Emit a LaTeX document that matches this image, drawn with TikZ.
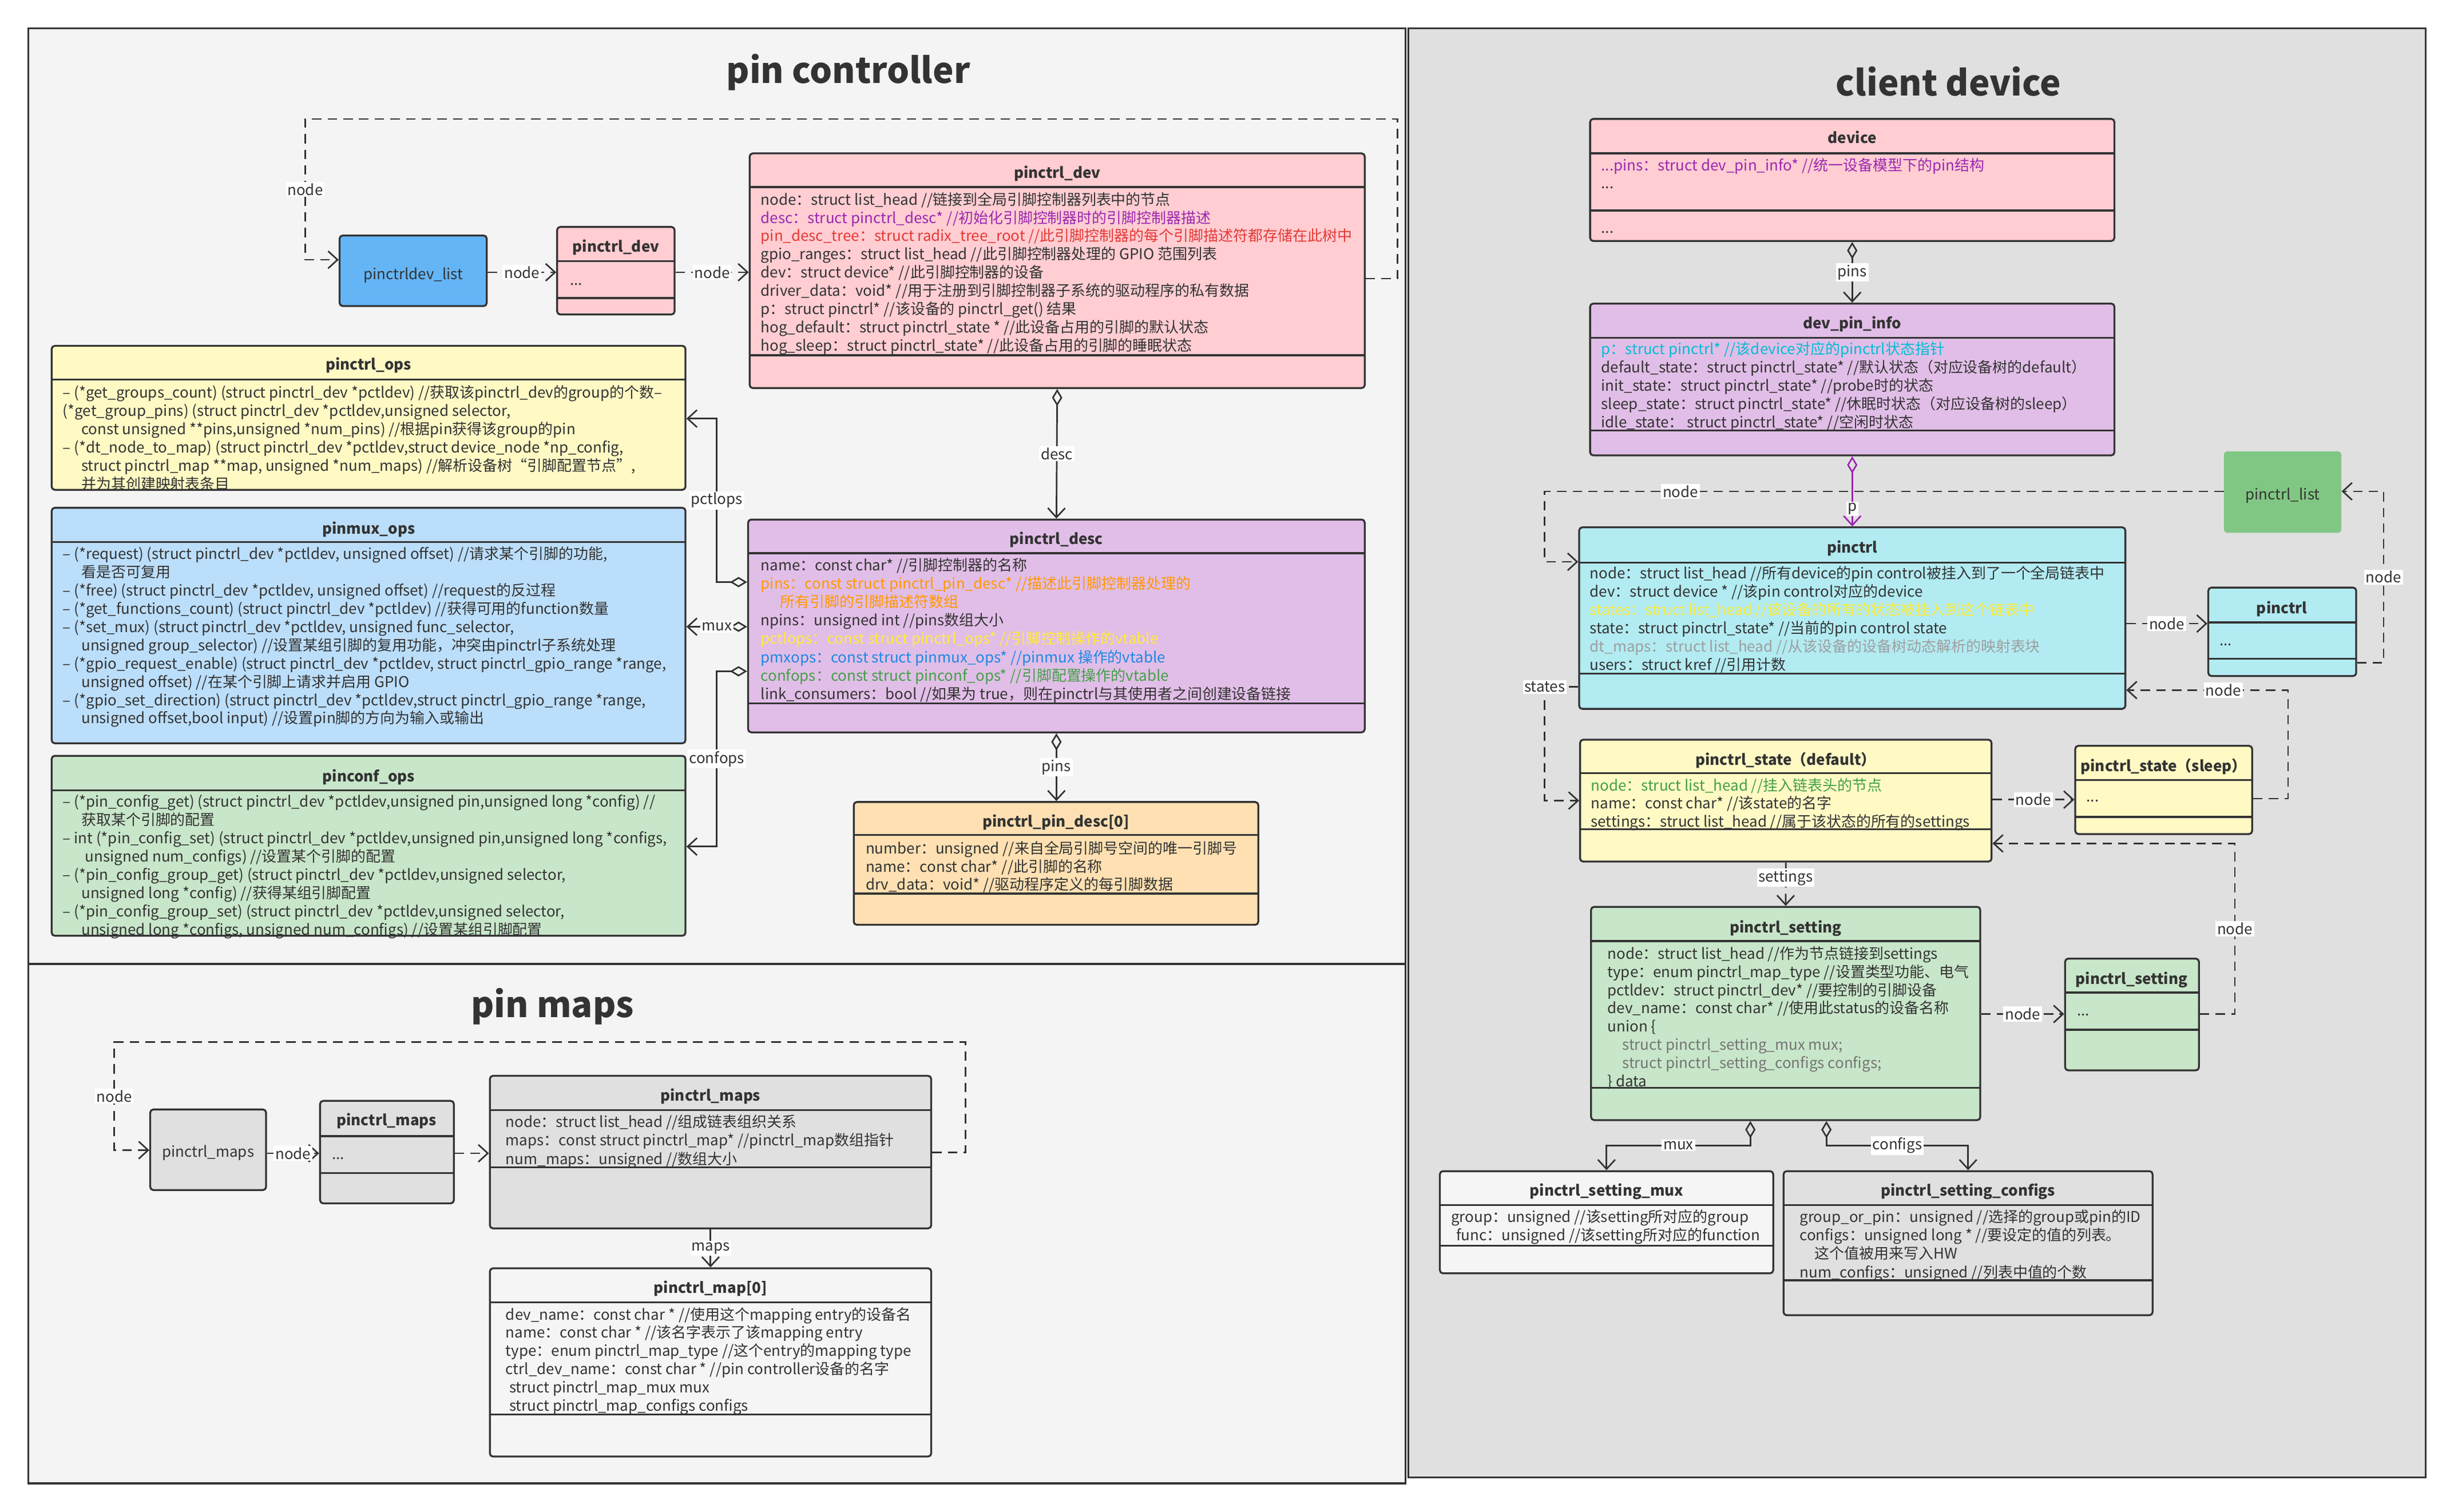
\documentclass[tikz,border=0pt]{standalone}
\usepackage{fontspec}
\setmainfont{Noto Sans CJK SC}
\usetikzlibrary{arrows.meta,fit}
\definecolor{lc}{HTML}{333333}
\definecolor{pnlA}{HTML}{F4F4F4}
\definecolor{pnlB}{HTML}{E0E0E0}
\definecolor{cpink}{HTML}{FFCDD2}
\definecolor{cblue}{HTML}{64B5F6}
\definecolor{cyell}{HTML}{FFF9C4}
\definecolor{clblue}{HTML}{BBDEFB}
\definecolor{cgreen}{HTML}{C8E6C9}
\definecolor{cpurp}{HTML}{E1BEE7}
\definecolor{corng}{HTML}{FFE0B2}
\definecolor{cgray}{HTML}{E0E0E0}
\definecolor{cwhite}{HTML}{F5F5F5}
\definecolor{ccyan}{HTML}{B2EBF2}
\definecolor{cdgreen}{HTML}{81C784}
\definecolor{tpur}{HTML}{9C27B0}
\definecolor{tred}{HTML}{E53935}
\definecolor{torg}{HTML}{FF9800}
\definecolor{tyel}{HTML}{FFEB3B}
\definecolor{tblu}{HTML}{1E88E5}
\definecolor{tgrn}{HTML}{43A047}
\definecolor{tcyn}{HTML}{00BCD4}
\definecolor{tgry}{HTML}{9E9E9E}
\definecolor{tdgry}{HTML}{757575}
\tikzset{
  pnl/.style={draw=lc, line width=0.6mm},
  box/.style={draw=lc, line width=0.6mm, rounded corners=1mm, inner sep=0pt},
  sep/.style={draw=lc, line width=0.6mm},
  hdr/.style={inner sep=0pt, text=lc, font=\fontsize{13.5}{16}\selectfont\bfseries, text height=11.6pt, text depth=1.9pt},
  fld/.style={anchor=west, inner sep=0pt, text=lc, font=\fontsize{13.5}{16}\selectfont, text height=11.6pt, text depth=1.9pt},
  ttl/.style={text=lc, font=\fontsize{32}{38}\selectfont\bfseries},
  lbl/.style={fill=white, inner sep=0.5mm, text=lc, font=\fontsize{13.5}{16}\selectfont},
  lnk/.style={draw=lc, line width=0.5mm, -{Straight Barb[length=3mm,width=5.5mm]}},
  dlnk/.style={lnk, dash pattern=on 3mm off 2mm},
  agg/.style={lnk, {Diamond[open,length=5.5mm,width=3.3mm]}-{Straight Barb[length=3mm,width=5.5mm]}}
}
\begin{document}
\begin{tikzpicture}[x=0.5mm,y=-0.5mm]
\useasboundingbox (0,0) rectangle (1568,966);

\draw[pnl, fill=pnlA] (18,18) rectangle (898,616);
\draw[pnl, fill=pnlA] (18,616) rectangle (898,948);
\draw[pnl, fill=pnlB] (900,18) rectangle (1550,944);
\node[ttl] (t1) at (542,46) {pin controller};
\node[ttl] (t2) at (353,643) {pin maps};
\node[ttl] (t3) at (1245,52) {client device};

\node[box, fill=cblue, fit={(217,150.5) (311,195.6)}] (devlist) {};
\node[fld, anchor=center] (devlist-t) at (264,175) {pinctrldev\_list};
\node[box, fill=cpink, fit={(356,145) (431,201)}] (devx) {};
\draw[sep] (356,167) -- (431,167);
\draw[sep] (356,190.5) -- (431,190.5);
\node[hdr] (devx-h) at (393.5,157.5) {pinctrl\_dev};
\node[fld] (devx-1) at (364,179) {...};

\node[box, fill=cpink, fit={(479,98) (872,248)}] (dev) {};
\draw[sep] (479,119.5) -- (872,119.5);
\draw[sep] (479,227) -- (872,227);
\node[hdr] (dev-h) at (675.5,110.5) {pinctrl\_dev};
\foreach \s [count=\k] in {
  {node：struct list\_head //链接到全局引脚控制器列表中的节点},
  {\color{tpur}desc：struct pinctrl\_desc* //初始化引脚控制器时的引脚控制器描述},
  {\color{tred}pin\_desc\_tree：struct radix\_tree\_root //此引脚控制器的每个引脚描述符都存储在此树中},
  {gpio\_ranges：struct list\_head //此引脚控制器处理的 GPIO 范围列表},
  {dev：struct device* //此引脚控制器的设备},
  {driver\_data：void* //用于注册到引脚控制器子系统的驱动程序的私有数据},
  {p：struct pinctrl* //该设备的 pinctrl\_get() 结果},
  {hog\_default：struct pinctrl\_state * //此设备占用的引脚的默认状态},
  {hog\_sleep：struct pinctrl\_state* //此设备占用的引脚的睡眠状态}}
  {\node[fld] (dev-\k) at (486,{127.5+(\k-1)*11.67}) {\s};}

\node[box, fill=cyell, fit={(33,221) (438,313)}] (ops) {};
\draw[sep] (33,242.5) -- (438,242.5);
\node[hdr] (ops-h) at (235.5,233) {pinctrl\_ops};
\foreach \s [count=\k] in {
  {– (*get\_groups\_count) (struct pinctrl\_dev *pctldev) //获取该pinctrl\_dev的group的个数–},
  {(*get\_group\_pins) (struct pinctrl\_dev *pctldev,unsigned selector,},
  {\hspace*{1.25em}const unsigned **pins,unsigned *num\_pins) //根据pin获得该group的pin},
  {– (*dt\_node\_to\_map) (struct pinctrl\_dev *pctldev,struct device\_node *np\_config,},
  {\hspace*{1.25em}struct pinctrl\_map **map, unsigned *num\_maps) //解析设备树“引脚配置节点”,},
  {\hspace*{1.25em}并为其创建映射表条目}}
  {\node[fld] (ops-\k) at (40,{251+(\k-1)*11.67}) {\s};}

\node[box, fill=clblue, fit={(33,324.5) (438,475)}] (mux) {};
\draw[sep] (33,346.5) -- (438,346.5);
\node[hdr] (mux-h) at (235.5,338) {pinmux\_ops};
\foreach \s [count=\k] in {
  {– (*request) (struct pinctrl\_dev *pctldev, unsigned offset) //请求某个引脚的功能,},
  {\hspace*{1.25em}看是否可复用},
  {– (*free) (struct pinctrl\_dev *pctldev, unsigned offset) //request的反过程},
  {– (*get\_functions\_count) (struct pinctrl\_dev *pctldev) //获得可用的function数量},
  {– (*set\_mux) (struct pinctrl\_dev *pctldev, unsigned func\_selector,},
  {\hspace*{1.25em}unsigned group\_selector) //设置某组引脚的复用功能，冲突由pinctrl子系统处理},
  {– (*gpio\_request\_enable) (struct pinctrl\_dev *pctldev, struct pinctrl\_gpio\_range *range,},
  {\hspace*{1.25em}unsigned offset) //在某个引脚上请求并启用 GPIO},
  {– (*gpio\_set\_direction) (struct pinctrl\_dev *pctldev,struct pinctrl\_gpio\_range *range,},
  {\hspace*{1.25em}unsigned offset,bool input) //设置pin脚的方向为输入或输出}}
  {\node[fld] (mux-\k) at (40,{354+(\k-1)*11.67}) {\s};}

\node[box, fill=cgreen, fit={(33,483) (438,598)}] (conf) {};
\draw[sep] (33,505) -- (438,505);
\node[hdr] (conf-h) at (235.5,496) {pinconf\_ops};
\foreach \s [count=\k] in {
  {– (*pin\_config\_get) (struct pinctrl\_dev *pctldev,unsigned pin,unsigned long *config) //},
  {\hspace*{1.25em}获取某个引脚的配置},
  {– int (*pin\_config\_set) (struct pinctrl\_dev *pctldev,unsigned pin,unsigned long *configs,},
  {\hspace*{1.5em}unsigned num\_configs) //设置某个引脚的配置},
  {– (*pin\_config\_group\_get) (struct pinctrl\_dev *pctldev,unsigned selector,},
  {\hspace*{1.25em}unsigned long *config) //获得某组引脚配置},
  {– (*pin\_config\_group\_set) (struct pinctrl\_dev *pctldev,unsigned selector,},
  {\hspace*{1.25em}unsigned long *configs, unsigned num\_configs) //设置某组引脚配置}}
  {\node[fld] (conf-\k) at (40,{512.4+(\k-1)*11.67}) {\s};}

\node[box, fill=cpurp, fit={(478,332) (872,468)}] (desc) {};
\draw[sep] (478,353.5) -- (872,353.5);
\draw[sep] (478,449.5) -- (872,449.5);
\node[hdr] (desc-h) at (675,344.5) {pinctrl\_desc};
\foreach \s [count=\k] in {
  {name：const char* //引脚控制器的名称},
  {\color{torg}pins：const struct pinctrl\_pin\_desc* //描述此引脚控制器处理的},
  {\color{torg}\hspace*{1.3em}所有引脚的引脚描述符数组},
  {npins：unsigned int //pins数组大小},
  {\color{tyel}pctlops：const struct pinctrl\_ops* //引脚控制操作的vtable},
  {\color{tblu}pmxops：const struct pinmux\_ops* //pinmux 操作的vtable},
  {\color{tgrn}confops：const struct pinconf\_ops* //引脚配置操作的vtable},
  {link\_consumers：bool //如果为 true，则在pinctrl与其使用者之间创建设备链接}}
  {\node[fld] (desc-\k) at (486,{361.2+(\k-1)*11.75}) {\s};}

\node[box, fill=corng, fit={(545.5,512.5) (804,591)}] (pind) {};
\draw[sep] (545.5,533.5) -- (804,533.5);
\draw[sep] (545.5,571) -- (804,571);
\node[hdr] (pind-h) at (674.7,525) {pinctrl\_pin\_desc[0]};
\foreach \s [count=\k] in {
  {number：unsigned //来自全局引脚号空间的唯一引脚号},
  {name：const char* //此引脚的名称},
  {drv\_data：void* //驱动程序定义的每引脚数据}}
  {\node[fld] (pind-\k) at (553,{542.2+(\k-1)*11.6}) {\s};}

\node[box, fill=cgray, fit={(96,709) (170,760.5)}] (mapsa) {};
\node[fld, anchor=center] (mapsa-t) at (133,736) {pinctrl\_maps};
\node[box, fill=cgray, fit={(204.5,703.5) (290,769)}] (mapsb) {};
\draw[sep] (204.5,726) -- (290,726);
\draw[sep] (204.5,749.5) -- (290,749.5);
\node[hdr] (mapsb-h) at (247,716) {pinctrl\_maps};
\node[fld] (mapsb-1) at (212,737.5) {...};

\node[box, fill=cgray, fit={(313,687.5) (595,785)}] (maps) {};
\draw[sep] (313,709.5) -- (595,709.5);
\draw[sep] (313,746) -- (595,746);
\node[hdr] (maps-h) at (454,700) {pinctrl\_maps};
\foreach \s [count=\k] in {
  {node：struct list\_head //组成链表组织关系},
  {maps：const struct pinctrl\_map* //pinctrl\_map数组指针},
  {num\_maps：unsigned //数组大小}}
  {\node[fld] (maps-\k) at (323,{717+(\k-1)*11.8}) {\s};}

\node[box, fill=cwhite, fit={(313,810.5) (595,930.8)}] (map0) {};
\draw[sep] (313,832.3) -- (595,832.3);
\draw[sep] (313,904) -- (595,904);
\node[hdr] (map0-h) at (454,823) {pinctrl\_map[0]};
\foreach \s [count=\k] in {
  {dev\_name：const char * //使用这个mapping entry的设备名},
  {name：const char * //该名字表示了该mapping entry},
  {type：enum pinctrl\_map\_type //这个entry的mapping type},
  {ctrl\_dev\_name：const char * //pin controller设备的名字},
  {\hspace*{0.25em}struct pinctrl\_map\_mux mux},
  {\hspace*{0.25em}struct pinctrl\_map\_configs configs}}
  {\node[fld] (map0-\k) at (323,{840+(\k-1)*11.65}) {\s};}

\node[box, fill=cpink, fit={(1016,76) (1351,154)}] (device) {};
\draw[sep] (1016,98) -- (1351,98);
\draw[sep] (1016,134.5) -- (1351,134.5);
\node[hdr] (device-h) at (1183.5,88) {device};
\node[fld] (device-1) at (1023,105.6) {\color{tpur}...pins：struct dev\_pin\_info* //统一设备模型下的pin结构};
\node[fld] (device-2) at (1023,117) {...};
\node[fld] (device-3) at (1023,145.5) {...};

\node[box, fill=cpurp, fit={(1016,194) (1351,291)}] (pininfo) {};
\draw[sep] (1016,216) -- (1351,216);
\draw[sep] (1016,275) -- (1351,275);
\node[hdr] (pininfo-h) at (1183.5,206.5) {dev\_pin\_info};
\foreach \s [count=\k] in {
  {\color{tcyn}p：struct pinctrl* //该device对应的pinctrl状态指针},
  {default\_state：struct pinctrl\_state* //默认状态（对应设备树的default）},
  {init\_state：struct pinctrl\_state* //probe时的状态},
  {sleep\_state：struct pinctrl\_state* //休眠时状态（对应设备树的sleep）},
  {idle\_state：\ struct pinctrl\_state* //空闲时状态}}
  {\node[fld] (pininfo-\k) at (1023,{223+(\k-1)*11.75}) {\s};}

\node[fill=cdgreen, rounded corners=1mm, inner sep=0pt, fit={(1421,288.5) (1496,340.5)}] (plist) {};
\node[fld, anchor=center] (plist-t) at (1458.5,316) {pinctrl\_list};

\node[box, fill=ccyan, fit={(1009,337) (1358,453)}] (pctl) {};
\draw[sep] (1009,359.5) -- (1358,359.5);
\draw[sep] (1009,430.6) -- (1358,430.6);
\node[hdr] (pctl-h) at (1183.5,350) {pinctrl};
\foreach \s [count=\k] in {
  {node：struct list\_head //所有device的pin control被挂入到了一个全局链表中},
  {dev：struct device * //该pin control对应的device},
  {\color{tyel}states：struct list\_head //该设备的所有的状态被挂入到这个链表中},
  {state：struct pinctrl\_state* //当前的pin control state},
  {\color{tgry}dt\_maps：struct list\_head //从该设备的设备树动态解析的映射表块},
  {users：struct kref //引用计数}}
  {\node[fld] (pctl-\k) at (1015.7,{366.4+(\k-1)*11.7}) {\s};}

\node[box, fill=ccyan, fit={(1411,375.5) (1505.5,432)}] (pctlx) {};
\draw[sep] (1411,397.8) -- (1505.5,397.8);
\draw[sep] (1411,421) -- (1505.5,421);
\node[hdr] (pctlx-h) at (1458,388.6) {pinctrl};
\node[fld] (pctlx-1) at (1418,409) {...};

\node[box, fill=cyell, fit={(1009.6,472.7) (1272.5,550.6)}] (stdef) {};
\draw[sep] (1009.6,494) -- (1272.5,494);
\draw[sep] (1009.6,530) -- (1272.5,530);
\node[hdr] (stdef-h) at (1141,485.4) {pinctrl\_state（default）};
\foreach \s [count=\k] in {
  {\color{tgrn}node：struct list\_head //挂入链表头的节点},
  {name：const char* //该state的名字},
  {settings：struct list\_head //属于该状态的所有的settings}}
  {\node[fld] (stdef-\k) at (1016.4,{502+(\k-1)*11.5}) {\s};}

\node[box, fill=cyell, fit={(1326,476.6) (1439,533)}] (stslp) {};
\draw[sep] (1326,498.5) -- (1439,498.5);
\draw[sep] (1326,522) -- (1439,522);
\node[hdr] (stslp-h) at (1382.5,489.4) {pinctrl\_state（sleep）};
\node[fld] (stslp-1) at (1333,509) {...};

\node[box, fill=cgreen, fit={(1016.6,579.5) (1265.3,715.8)}] (set) {};
\draw[sep] (1016.6,601.4) -- (1265.3,601.4);
\draw[sep] (1016.6,695.2) -- (1265.3,695.2);
\node[hdr] (set-h) at (1141,592.6) {pinctrl\_setting};
\foreach \s [count=\k] in {
  {node：struct list\_head //作为节点链接到settings},
  {type：enum pinctrl\_map\_type //设置类型功能、电气},
  {pctldev：struct pinctrl\_dev* //要控制的引脚设备},
  {dev\_name：const char* //使用此status的设备名称},
  {union \{},
  {\color{tdgry}\hspace*{1em}struct pinctrl\_setting\_mux mux;},
  {\color{tdgry}\hspace*{1em}struct pinctrl\_setting\_configs configs;},
  {\} data}}
  {\node[fld] (set-\k) at (1027,{609.4+(\k-1)*11.66}) {\s};}

\node[box, fill=cgreen, fit={(1319.5,612.6) (1405,684)}] (setx) {};
\draw[sep] (1319.5,634.3) -- (1405,634.3);
\draw[sep] (1319.5,658) -- (1405,658);
\node[hdr] (setx-h) at (1362,625.6) {pinctrl\_setting};
\node[fld] (setx-1) at (1327,645.5) {...};

\node[box, fill=cwhite, fit={(920,748.4) (1133,813.7)}] (smux) {};
\draw[sep] (920,770) -- (1133,770);
\draw[sep] (920,796) -- (1133,796);
\node[hdr] (smux-h) at (1026.5,760.8) {pinctrl\_setting\_mux};
\foreach \s [count=\k] in {
  {group：unsigned //该setting所对应的group},
  {\hspace*{0.35em}func：unsigned //该setting所对应的function}}
  {\node[fld] (smux-\k) at (927,{777.6+(\k-1)*11.7}) {\s};}

\node[box, fill=cgray, fit={(1139.6,748.4) (1375.4,840.5)}] (scfg) {};
\draw[sep] (1139.6,770) -- (1375.4,770);
\draw[sep] (1139.6,818.2) -- (1375.4,818.2);
\node[hdr] (scfg-h) at (1257.5,760.8) {pinctrl\_setting\_configs};
\foreach \s [count=\k] in {
  {group\_or\_pin：unsigned //选择的group或pin的ID},
  {configs：unsigned long * //要设定的值的列表。},
  {\hspace*{1em}这个值被用来写入HW},
  {num\_configs：unsigned //列表中值的个数}}
  {\node[fld] (scfg-\k) at (1149.8,{777.6+(\k-1)*11.8}) {\s};}

\draw[dlnk] (dev.east |- 0,178) -- (893,178) -- (893,76) -- (195,76) -- node[lbl] {node} (195,166) -- (devlist.west |- 0,166);
\draw[dlnk] (devlist.east |- 0,174) -- node[lbl] {node} (devx.west |- 0,174);
\draw[dlnk] (devx.east |- 0,174) -- node[lbl] {node} (dev.west |- 0,174);
\draw[agg] (dev.south) -- node[lbl] {desc} (desc.north);
\draw[agg] (desc.south) -- node[lbl] {pins} (desc.south |- pind.north);
\draw[agg] (desc.west |- 0,372) -- (458,372) -- node[lbl] {pctlops} (458,267.5) -- (ops.east |- 0,267.5);
\draw[agg] (desc.west |- 0,400.5) -- node[lbl] {mux} (mux.east |- 0,400.5);
\draw[agg] (desc.west |- 0,429) -- (458,429) -- node[lbl] {confops} (458,541) -- (conf.east |- 0,541);

\draw[dlnk] (maps.east |- 0,736.5) -- (617,736.5) -- (617,666) -- (73,666) -- node[lbl] {node} (73,735) -- (mapsa.west |- 0,735);
\draw[dlnk] (mapsa.east |- 0,737) -- node[lbl] {node} (mapsb.west |- 0,737);
\draw[dlnk] (mapsb.east |- 0,737) -- (maps.west |- 0,737);
\draw[lnk] (maps.south) -- node[lbl] {maps} (map0.north);

\draw[agg] (device.south) -- node[lbl] {pins} (pininfo.north);
\draw[dlnk] (plist.west |- 0,314) -- node[lbl, pos=0.8] {node} (987,314) -- (987,359) -- (pctl.west |- 0,359);
\draw[agg, draw=tpur] (pininfo.south) -- node[lbl, pos=0.75] {p} (pctl.north);
\draw[dlnk] (pctl.east |- 0,398.5) -- node[lbl] {node} (pctlx.west |- 0,398.5);
\draw[dlnk] (pctlx.east |- 0,423.6) -- (1523,423.6) -- node[lbl] {node} (1523,314) -- (plist.east |- 0,314);
\draw[dlnk] (pctl.west |- 0,439) -- (987,439) node[lbl] {states} -- (987,511.6) -- (stdef.west |- 0,511.6);
\draw[dlnk] (stdef.east |- 0,511) -- node[lbl] {node} (stslp.west |- 0,511);
\draw[dlnk] (stslp.east |- 0,510.4) -- (1462,510.4) -- (1462,441) -- node[lbl, pos=0.4] {node} (pctl.east |- 0,441);
\draw[dlnk] (stdef.south) -- node[lbl, pos=0.35] {settings} (set.north);
\draw[dlnk] (set.east |- 0,648) -- node[lbl] {node} (setx.west |- 0,648);
\draw[dlnk] (setx.east |- 0,648) -- (1428,648) -- node[lbl] {node} (1428,539) -- (stdef.east |- 0,539);
\draw[agg] (set.south -| 1118.4,0) -- (1118.4,732) -- node[lbl] {mux} (1026.5,732) -- (smux.north);
\draw[agg] (set.south -| 1167,0) -- (1167,732) -- node[lbl] {configs} (1257.5,732) -- (scfg.north);
\end{tikzpicture}
\end{document}
